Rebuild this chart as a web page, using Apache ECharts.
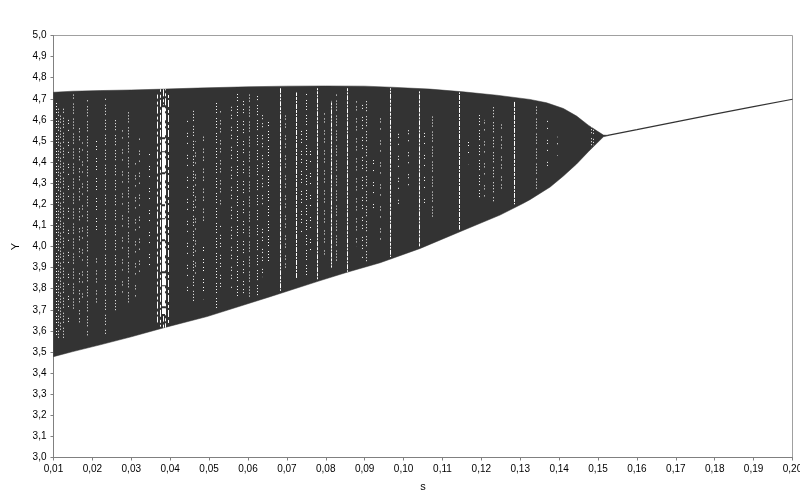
<!DOCTYPE html>
<html><head><meta charset="utf-8">
<style>html,body{margin:0;padding:0;background:#fff}#c{width:800px;height:500px}</style>
<script src="https://cdn.jsdelivr.net/npm/echarts@6/dist/echarts.min.js"></script>
</head><body><div id="c"></div>
<script>
// Envelope of the chaotic band
const upperS = [0.01,0.015,0.022,0.03,0.0385,0.047,0.06,0.07,0.08,0.09,0.0968,0.1068,0.1153,0.124,0.1325,0.1368,0.1411,0.1445,0.1475,0.1497,0.1514,0.1526];
const upperY = [4.731,4.736,4.739,4.742,4.746,4.751,4.757,4.76,4.761,4.76,4.755,4.746,4.733,4.717,4.697,4.681,4.654,4.618,4.575,4.548,4.528,4.527];
const lowerS = [0.01,0.015,0.022,0.03,0.0382,0.0495,0.0657,0.078,0.0855,0.094,0.1043,0.1145,0.1248,0.1307,0.1325,0.1377,0.1411,0.1445,0.1475,0.1497,0.1514,0.1526];
const lowerY = [3.478,3.502,3.534,3.572,3.614,3.668,3.762,3.835,3.878,3.923,3.991,4.07,4.149,4.204,4.222,4.282,4.334,4.391,4.449,4.489,4.52,4.525];
// Single-valued branch after the band
const tailS = [0.1525,0.16,0.17,0.18,0.19,0.20];
const tailY = [4.527,4.554,4.591,4.627,4.663,4.698];
// White gaps: [s, Y top, Y bottom]
const coreGapRuns = [[0.0382,4.66,3.68]];
const sideGapRuns = [[0.0382,4.745,4.67],[0.0382,3.67,3.615],[0.0368,4.72,3.64],[0.0374,4.745,3.62],[0.0389,4.745,3.615],[0.0396,4.73,3.63]];
const dashGapRuns = [[0.0684,4.75,3.79],[0.0726,4.73,3.85],[0.078,4.75,3.84],[0.0814,4.69,3.9],[0.0856,4.75,3.88],[0.0967,4.75,3.95],[0.1042,4.74,4.0],[0.1145,4.73,4.08],[0.1284,4.69,4.2]];
const dotGapRuns = [[0.0108,4.68,3.58],[0.0112,4.66,3.56],[0.0117,4.62,3.6],[0.0125,4.66,3.55],[0.0151,4.72,3.7],[0.0188,4.7,3.57],[0.0234,4.7,3.58],[0.0259,4.62,3.68],[0.0292,4.65,3.72],
  [0.0459,4.65,3.72],[0.0518,4.68,3.7],[0.0572,4.73,3.76],[0.0603,4.72,3.75],[0.0624,4.72,3.76],
  [0.0652,4.59,3.93],[0.075,4.73,3.85],[0.0827,4.72,3.91],[0.0906,4.71,3.92],
  [0.1075,4.63,4.12],[0.1194,4.63,4.23],[0.123,4.66,4.21],[0.1342,4.67,4.27],[0.1484,4.57,4.47],[0.1488,4.56,4.48]];
const brokenGapRuns = [[0.0166,4.56,3.95],[0.0166,3.88,3.63],[0.021,4.5,4.05],[0.021,3.96,3.7],[0.0485,4.53,4.12],[0.0485,4.0,3.75],[0.0529,4.65,4.2],[0.0529,4.1,3.78],[0.0557,4.7,3.8],[0.0588,4.72,3.77],
  [0.0638,4.646,4.2],[0.0638,4.1,3.855],[0.0696,4.63,3.87],[0.0738,4.55,4.06],[0.0796,4.64,3.95],[0.088,4.69,4.0],[0.0894,4.69,3.94],[0.1251,4.59,4.26]];
const sparseGapRuns = [[0.0138,4.6,3.62],[0.0175,4.5,3.75],[0.0277,4.55,3.75],[0.031,4.42,3.75],[0.032,4.53,3.85],[0.0346,4.45,3.9],[0.0444,4.6,3.78],[0.0465,4.5,3.85],[0.0762,4.5,3.95],[0.0924,4.45,4.16],[0.0942,4.64,4.0],[0.0986,4.56,4.19],[0.1014,4.57,4.24],[0.1055,4.55,4.2],[0.1168,4.5,4.39],[0.1207,4.6,4.2],[0.1371,4.6,4.38],[0.1395,4.52,4.43]];
// Axis titles
const xTitle = 's', yTitle = 'Y';

const gapSeries = (data, width, dash, z) => ({
  type:'custom', data, z, silent:true, clip:true, animation:false,
  encode:{x:0,y:[1,2]},
  renderItem(params, api){
    const a = api.coord([api.value(0), api.value(1)]);
    const b = api.coord([api.value(0), api.value(2)]);
    const px = Math.round(a[0]-0.5)+0.5;
    return {type:'line', shape:{x1:px,y1:a[1],x2:px,y2:b[1]},
      style:{stroke:'#fff',lineWidth:width,lineDash:dash,lineDashOffset:params.dataIndex*1.5,fill:null}};
  }
});
const labelFont = {color:'#000',fontFamily:'"Liberation Sans",Arial,sans-serif',fontSize:10};
const axisCommon = {
  axisLine:{show:true,lineStyle:{color:'#808080',width:1}},
  axisTick:{show:true,length:3,lineStyle:{color:'#808080'}},
  splitLine:{show:false},
  nameLocation:'middle',
  nameTextStyle:{color:'#000',fontFamily:'"Liberation Sans",Arial,sans-serif',fontSize:11}
};
const chart = echarts.init(document.getElementById('c'),null,{renderer:'canvas'});
chart.setOption({
  animation:false,
  backgroundColor:'#fff',
  grid:{left:53.5,right:7.5,top:35.5,bottom:42.5,outerBoundsMode:'none',containLabel:false,show:true,borderColor:'#a0a0a0',borderWidth:1,backgroundColor:'transparent'},
  xAxis:{type:'value',min:0.01,max:0.2,interval:0.01,name:xTitle,nameGap:24,...axisCommon,
    axisLabel:{...labelFont,margin:7,showMaxLabel:true,hideOverlap:false,formatter:v=>v.toFixed(2).replace('.',',')}},
  yAxis:{type:'value',min:3,max:5,interval:0.1,name:yTitle,nameGap:26,...axisCommon,
    axisLabel:{...labelFont,margin:7,padding:[2,0,0,0],formatter:v=>v.toFixed(1).replace('.',',')}},
  series:[
    {type:'custom',data:upperS.map((s,i)=>[s,upperY[i]]),silent:true,z:3,animation:false,encode:{x:0,y:1},
      renderItem(params, api){
        if(params.dataIndex!==0) return null;
        const top = upperS.map((s,i)=>api.coord([s,upperY[i]]));
        const bottom = lowerS.map((s,i)=>api.coord([s,lowerY[i]])).reverse();
        return {type:'polygon',shape:{points:top.concat(bottom)},style:{fill:'#333',stroke:'#333',lineWidth:0.5}};
      }},
    {type:'line',symbol:'none',silent:true,z:3,lineStyle:{color:'#333',width:1.2},data:tailS.map((s,i)=>[s,tailY[i]])},
    gapSeries(coreGapRuns,3,[30,2,12,1,20,2],5),
    gapSeries(sideGapRuns,1,[7,3,3,2],6),
    gapSeries(dashGapRuns,1,[5,1,3,1,2,1],6),
    gapSeries(dotGapRuns,1,[1,2,1,2,1,2,1,5],6),
    gapSeries(brokenGapRuns,1,[1,2,1,4,1,2,1,8],6),
    gapSeries(sparseGapRuns,1,[1,2,1,6,1,11],6)
  ]
});
</script></body></html>
